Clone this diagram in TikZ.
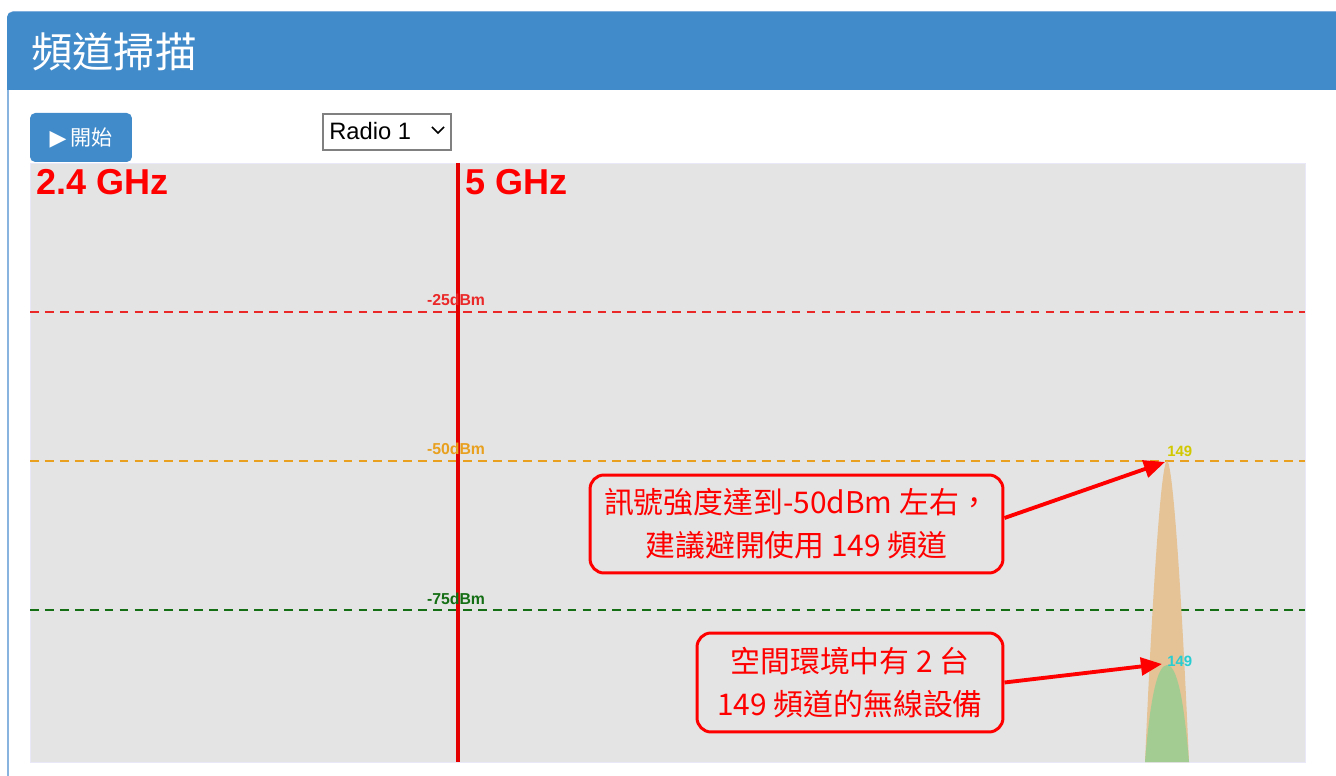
\documentclass[tikz,border=0pt]{standalone}
\usepackage{fontspec}
\usepackage{tikz}
\usepackage{xcolor}
\usetikzlibrary{positioning,arrows.meta,calc}
\setmainfont{Liberation Sans}
\newfontfamily\cjk{Noto Sans CJK TC}
\newfontfamily\symfont{DejaVu Sans}
\definecolor{hdrblue}{RGB}{66,139,202}
\definecolor{frameblue}{RGB}{138,180,224}
\definecolor{chartbg}{RGB}{228,228,228}
\definecolor{chartedge}{RGB}{232,232,248}
\definecolor{lvlred}{RGB}{235,40,40}
\definecolor{lvlorange}{RGB}{232,160,30}
\definecolor{lvlgreen}{RGB}{20,110,20}
\definecolor{peakorange}{RGB}{229,195,150}
\definecolor{peakgreen}{RGB}{163,204,147}
\definecolor{chyellow}{RGB}{210,200,0}
\definecolor{chcyan}{RGB}{40,205,210}

\begin{document}
\begin{tikzpicture}[x=0.02cm,y=-0.02cm,
    level/.style={dashed,dash pattern=on 5pt off 3.5pt,line width=0.85pt},
    dbm/.style={font=\bfseries\fontsize{9}{10}\selectfont},
    chlabel/.style={font=\bfseries\fontsize{8.5}{10}\selectfont,anchor=west},
    callout/.style={draw=red,line width=1.7pt,rounded corners=8pt,text=red,align=center,
        font=\cjk\fontsize{17}{24.4}\selectfont},
    pointer/.style={draw=red,line width=2.2pt,-{Triangle[length=12pt,width=10pt]}}]
    \useasboundingbox (0,0) rectangle (1336,776);
    \fill[white] (0,0) rectangle (1336,776);
    % panel and header
    \draw[frameblue,line width=1pt,rounded corners=3pt] (8,776) -- (8,12) -- (1340,12);
    \fill[hdrblue,rounded corners=3pt] (7,12) rectangle (1345,90);
    \fill[hdrblue] (7,50) rectangle (1345,90);
    \node[anchor=west,text=white,font=\cjk\fontsize{23.5}{28}\selectfont,inner sep=0pt]
        (titulo) at (31,52) {頻道掃描};
    % chart area
    \draw[chartedge,fill=chartbg] (30,163) rectangle (1305,762);
    \node[anchor=west,text=red,font=\bfseries\fontsize{20.5}{23}\selectfont,inner sep=0pt]
        (band24) at (36,182) {2.4 GHz};
    \node[anchor=west,text=red,font=\bfseries\fontsize{20.5}{23}\selectfont,inner sep=0pt]
        (band5) at (465,182) {5 GHz};
    % signal levels
    \draw[level,lvlred] (30,312) -- (1305,312);
    \draw[level,lvlorange] (30,461) -- (1305,461);
    \draw[level,lvlgreen] (30,610) -- (1305,610);
    % peaks
    \fill[peakorange] (1145,762) .. controls (1152,600) and (1161,461) .. (1167,461)
        .. controls (1173,461) and (1182,600) .. (1189,762) -- cycle;
    \fill[peakgreen] (1145,762) .. controls (1150,700) and (1157,665) .. (1167,665)
        .. controls (1177,665) and (1184,700) .. (1189,762) -- cycle;
    \coordinate (toppeak) at (1165,462);
    \coordinate (lowpeak) at (1162,664);
    \node[chlabel,text=chyellow,inner sep=0pt] (ch149a) at (1167,451) {149};
    \node[chlabel,text=chcyan,inner sep=0pt] (ch149b) at (1167,661) {149};
    % band divider
    \draw[red!90!black,line width=2.3pt] (458,163) -- (458,762);
    \node[dbm,text=lvlred] (db25) at (456,300) {-25dBm};
    \node[dbm,text=lvlorange] (db50) at (456,449) {-50dBm};
    \node[dbm,text=lvlgreen] (db75) at (456,599) {-75dBm};
    % controls
    \node[fill=hdrblue,rounded corners=3pt,minimum width=2.04cm,minimum height=0.98cm,
        text=white,font=\cjk\fontsize{12}{14}\selectfont] (startbtn) at (81,137.5)
        {{\symfont\fontsize{12.5}{14}\selectfont ▶}\,開始};
    \node[draw=gray,fill=white,line width=0.7pt,minimum width=2.56cm,minimum height=0.72cm,
        inner sep=0pt] (radiosel) at (387,132) {};
    \node[anchor=west,font=\fontsize{13.5}{16}\selectfont,inner sep=0pt] (radiotxt)
        at (329,131) {Radio 1};
    \draw[line width=0.9pt] (432,127) -- (438,133) -- (444,127);
    % callouts
    \node[callout,minimum width=8.26cm,minimum height=1.96cm] (warnbox) at (796.5,524)
        {訊號強度達到-50dBm 左右，\\建議避開使用 149 頻道};
    \node[callout,minimum width=6.12cm,minimum height=1.98cm] (countbox) at (850,682.5)
        {空間環境中有 2 台\\149 頻道的無線設備};
    \draw[pointer] (warnbox.east) ++(0,-6) -- (toppeak);
    \draw[pointer] (countbox.east) -- (lowpeak);
\end{tikzpicture}
\end{document}
